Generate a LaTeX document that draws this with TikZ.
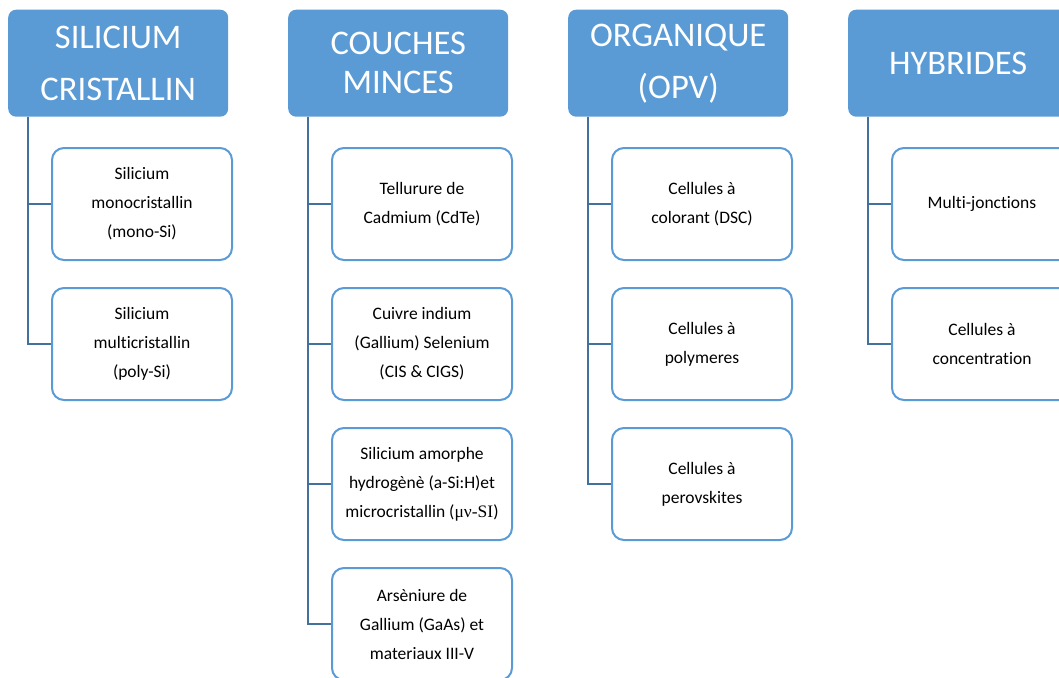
\documentclass[tikz,border=0pt]{standalone}
\usepackage{fontspec}
\setmainfont{Carlito}[Ligatures={NoCommon}]
\newfontfamily\tms{Liberation Serif}
\usetikzlibrary{calc}
\definecolor{hdrblue}{HTML}{5B9BD5}
\definecolor{connblue}{HTML}{41719C}
\tikzset{
  hdr/.style={fill=hdrblue, rounded corners=8pt, minimum width=220pt, minimum height=107pt,
    anchor=north west, inner sep=0pt, text=white, align=center,
    font=\fontsize{34.5}{52}\selectfont},
  hdrtight/.style={hdr, font=\fontsize{34.5}{39}\selectfont},
  child/.style={draw=hdrblue, line width=2pt, fill=white, rounded corners=12pt,
    minimum width=180pt, minimum height=112pt, anchor=north west, inner sep=0pt,
    align=center, font=\fontsize{17.5}{29}\selectfont},
  conn/.style={draw=connblue, line width=2.5pt}
}
\begin{document}
\begin{tikzpicture}[x=1pt,y=1pt]
\useasboundingbox (0,0) rectangle (1059,-677);
% headers
\node[hdr] (h1) at (8,-9.5) {SILICIUM\\CRISTALLIN};
\node[hdrtight] (h2) at (288,-9.5) {COUCHES\\MINCES};
\node[hdr] (h3) at (568,-9.5) {ORGANIQUE\\(OPV)};
\node[hdr] (h4) at (848,-9.5) {HYBRIDES};
% column 1
\node[child] (c11) at (51,-147) {Silicium\\monocristallin\\(mono-Si)};
\node[child] (c12) at (51,-287) {Silicium\\multicristallin\\(poly-Si)};
% column 2
\node[child] (c21) at (331,-147) {Tellurure de\\Cadmium (CdTe)};
\node[child] (c22) at (331,-287) {Cuivre indium\\(Gallium) Selenium\\(CIS \& CIGS)};
\node[child] (c23) at (331,-427) {Silicium amorphe\\hydrogènè (a-Si:H)et\\microcristallin ({\tms μν-SI})};
\node[child] (c24) at (331,-567) {Arsèniure de\\Gallium (GaAs) et\\materiaux III-V};
% column 3
\node[child] (c31) at (611,-147) {Cellules à\\colorant (DSC)};
\node[child] (c32) at (611,-287) {Cellules à\\polymeres};
\node[child] (c33) at (611,-427) {Cellules à\\perovskites};
% column 4
\node[child] (c41) at (891,-147) {Multi-jonctions};
\node[child] (c42) at (891,-287) {Cellules à\\concentration};
% connectors
\foreach \h/\c in {h1/c11,h1/c12,h2/c21,h2/c22,h2/c23,h2/c24,h3/c31,h3/c32,h3/c33,h4/c41,h4/c42}{
  \draw[conn] ($(\h.south west)+(20,0)$) |- (\c.west);
}
\end{tikzpicture}
\end{document}
